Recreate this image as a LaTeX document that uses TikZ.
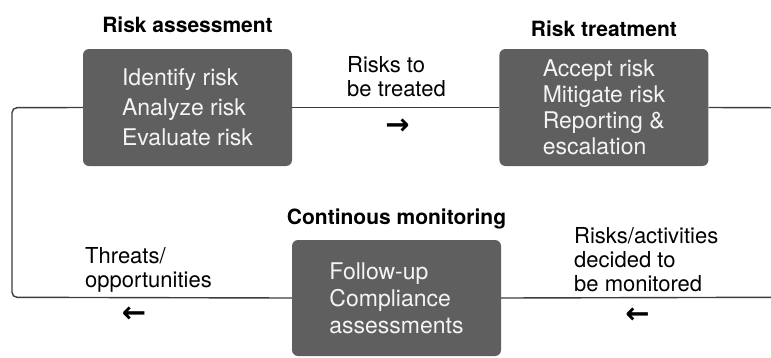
\documentclass[tikz,border=0pt]{standalone}
\usepackage{fontspec}
\setmainfont{TeX Gyre Heros}
\newfontfamily\arrowfont{DejaVu Sans}
\usetikzlibrary{positioning,calc}
\definecolor{stageBG}{HTML}{5F5F5F}
\definecolor{stageText}{HTML}{F4F4F4}
\definecolor{flowLine}{HTML}{3C3C3C}

\begin{document}
\begin{tikzpicture}[
  x=1pt, y=-1pt,
  stage/.style={fill=stageBG, draw=none, rounded corners=6pt, minimum width=209pt,
    minimum height=117pt, align=left, text=stageText, inner sep=0pt},
  title/.style={font=\bfseries\fontsize{21}{24}\selectfont, anchor=base, inner sep=0pt},
  note/.style={font=\fontsize{22}{24}\selectfont, align=left, anchor=base west, inner sep=0pt},
  dirarrow/.style={font=\arrowfont\bfseries\fontsize{29}{29}\selectfont, inner sep=0pt},
  flow/.style={draw=flowLine, line width=1.4pt},
]
\useasboundingbox (0,0) rectangle (771,357);

% Stage 1: Risk assessment
\node[stage, font=\fontsize{23}{30}\selectfont] (assess) at (187.5,107.5) {
  Identify risk\\
  Analyze risk\\
  Evaluate risk};
\node[title] (assessT) at ([yshift=16pt]assess.north) {Risk assessment};

% Stage 2: Risk treatment
\node[stage, font=\fontsize{23}{26}\selectfont, right=207pt of assess] (treat) {
  Accept risk\\
  Mitigate risk\\
  Reporting \&\\
  escalation};
\node[title] (treatT) at ([yshift=12pt]treat.north) {Risk treatment};

% Stage 3: Continous monitoring
\node[stage, font=\fontsize{23}{27}\selectfont, minimum height=116pt] (monitor) at (396.5,298) {
  Follow-up\\
  Compliance\\
  assessments};
\node[title] (monitorT) at ([yshift=15pt]monitor.north) {Continous monitoring};

% Loop ends leaving the page on the right
\coordinate (outTop) at (771,107.7);
\coordinate (outBot) at (771,297.3);
\coordinate (loopTop) at (12,107.7);
\coordinate (loopBot) at (12,297.3);

% Connectors
\draw[flow] (assess.east) -- (treat.west);
\draw[flow] (treat.east) -- (outTop);
\draw[flow] (outBot) -- (monitor.east);
\draw[flow, rounded corners=5pt] (assess.west) -- (loopTop) -- (loopBot) -- (monitor.west);

% Flow labels (base = last line)
\node[note] (toTreat) at (347,96) {Risks to\\be treated};
\node[dirarrow] (toTreatA) at (397.5,126.5) {→};
\node[note] (threats) at (85,287) {Threats/\\opportunities};
\node[dirarrow] (threatsA) at (134,315) {←};
\node[note] (toMonitor) at (574,291) {Risks/activities\\decided to\\be monitored};
\node[dirarrow] (toMonitorA) at (637.5,316) {←};

\end{tikzpicture}
\end{document}
